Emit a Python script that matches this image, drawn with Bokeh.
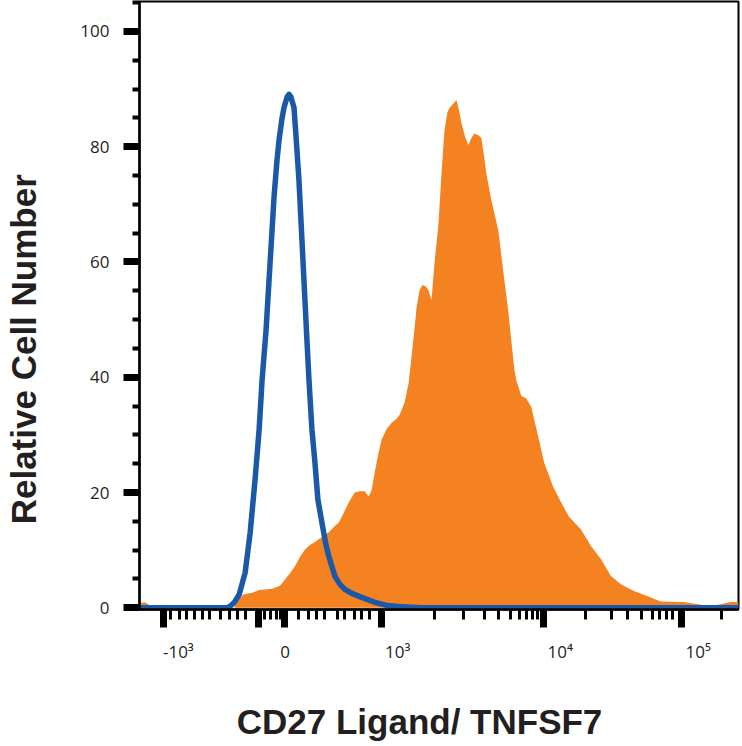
from bokeh.plotting import figure
from bokeh.models import Range1d, FixedTicker, LinearAxis
from bokeh.embed import file_html
from bokeh.resources import INLINE

# ---- data (x in biexponential display units 0..1000, y = relative cell number) ----
orange_x = [0, 10.0, 18.3, 25.0, 158.1, 166.4, 173.1, 188.0, 199.7, 221.3, 234.6, 242.9,
            251.2, 259.6, 267.9, 276.3, 284.6, 292.9, 304.5, 316.1, 326.1, 332.8, 341.1,
            349.4, 359.4, 367.7, 376.0, 382.7, 387.7, 392.7, 399.3, 404.3, 412.6, 421.0,
            429.3, 434.3, 442.6, 449.3, 454.2, 459.2, 462.6, 467.6, 472.5, 477.5, 482.5,
            487.5, 492.5, 499.2, 504.2, 509.2, 514.1, 517.5, 524.1, 529.1, 534.1, 537.4,
            544.1, 549.1, 554.1, 559.1, 565.7, 570.7, 575.7, 579.0, 587.4, 599.0, 609.0,
            615.6, 620.6, 625.6, 629.0, 637.3, 645.6, 653.9, 665.6, 675.5, 690.5, 703.8,
            717.1, 737.1, 753.7, 770.4, 787.0, 803.7, 825.3, 848.6, 870.2, 908.5, 931.8,
            953.4, 970.0, 986.7, 1000]
orange_y = [0.9, 0.9, 0.3, 0, 0, 1.5, 2.3, 2.6, 3.1, 3.3, 3.8, 4.9,
            6.0, 7.2, 8.8, 10.1, 10.9, 11.4, 12.3, 13.1, 14.2, 14.8, 16.5,
            18.3, 20.0, 20.2, 20.2, 19.3, 20.5, 23.5, 27.0, 29.2, 31.0, 32.1,
            32.8, 33.5, 35.6, 39.0, 43.6, 48.5, 52.2, 55.1, 56.0, 55.8, 55.1,
            53.4, 59.8, 66.7, 75.4, 82.9, 86.0, 86.7, 87.5, 88.1, 86.0, 84.1,
            81.5, 80.3, 81.5, 82.3, 82.0, 81.5, 78.0, 75.4, 70.7, 65.5, 56.9,
            51.5, 46.5, 41.5, 39.5, 36.8, 36.3, 34.9, 29.7, 25.2, 21.0, 18.3,
            15.8, 13.6, 10.7, 8.4, 5.5, 4.1, 2.9, 2.0, 1.1, 1.0, 0.6,
            0.3, 0.6, 1.0, 1.0]

blue_x = [0, 146.4, 151.4, 158.1, 166.4, 176.4, 184.7, 193.0, 199.7, 204.7, 211.3, 216.3,
          221.3, 224.6, 229.6, 232.9, 237.9, 241.3, 246.3, 249.6, 252.9, 257.9, 261.2,
          266.2, 271.2, 274.5, 279.5, 282.9, 287.9, 292.9, 297.8, 304.5, 311.1, 316.1,
          326.1, 334.4, 342.8, 354.4, 371.0, 392.7, 412.6, 437.6, 470.9, 1000]
blue_y = [0, 0, 0.3, 0.9, 2.3, 6.1, 13.0, 22.3, 30.9, 39.6, 48.2, 56.9,
          65.5, 71.3, 77.7, 81.1, 84.9, 86.8, 88.6, 89.1, 88.6, 86.8, 82.0,
          74.2, 63.8, 56.9, 46.5, 39.6, 30.9, 25.2, 18.8, 14.8, 11.0, 8.9,
          5.5, 4.1, 3.2, 2.5, 1.8, 0.95, 0.4, 0.2, 0, 0]

y_major_ticks = [0, 20, 40, 60, 80, 100]
y_minor_ticks = [5, 10, 15, 25, 30, 35, 45, 50, 55, 65, 70, 75, 85, 90, 95, 105]

x_major_ticks = [39.9, 198.0, 242.9, 404.3, 673.9, 905.2]
x_minor_ticks = [51.6, 66.6, 78.2, 91.5, 104.8, 116.5, 134.8, 149.8, 163.1, 176.4,
                 208.0, 218.0, 228.0, 234.6, 266.2, 282.9, 296.2, 309.5, 331.1, 342.8,
                 359.4, 371.0, 384.4, 492.5, 540.8, 575.7, 599.0, 619.0, 634.0, 645.6,
                 655.6, 663.9, 743.8, 788.7, 815.3, 838.6, 856.9, 868.6, 880.2, 890.2,
                 971.7]

x_label_pos = [64.9, 242.9, 431.0, 702.2, 932.6]
x_label_text = ["-10\u00b3", "0", "10\u00b3", "10\u2074", "10\u2075"]

x_title = "CD27 Ligand/ TNFSF7"
y_title = "Relative Cell Number"

# ---- layout ----
X0, X1 = 0, 1000
Y0, Y1 = -0.3, 105.2
W, H = 741, 745
ML, MR, MT, MB = 137, 3, 1, 136
INK = "#231f20"
ORANGE = "#f58220"
BLUE = "#1b58a8"
NBSP = "\u00a0"
X_TITLE_PAD = 4   # trailing non-breaking spaces: shift the centred title off-centre
Y_TITLE_PAD = 9

p = figure(width=W, height=H, x_range=Range1d(X0, X1), y_range=Range1d(Y0, Y1),
           output_backend="svg", toolbar_location=None,
           min_border_left=ML, min_border_right=MR, min_border_top=MT, min_border_bottom=MB)
p.grid.visible = False
p.background_fill_color = "white"
p.border_fill_color = "white"
p.outline_line_color = "black"
p.outline_line_width = 2

p.varea(x=orange_x, y1=0, y2=orange_y, fill_color=ORANGE, fill_alpha=1.0)
p.line(x=blue_x, y=blue_y, line_color=BLUE, line_width=5.5, line_join="round")

# y axis
ya = p.yaxis[0]
ya.ticker = FixedTicker(ticks=y_major_ticks, minor_ticks=y_minor_ticks)
ya.axis_line_color = "black"
ya.axis_line_width = 2.5
ya.major_tick_out = 16
ya.major_tick_in = 0
ya.major_tick_line_width = 7
ya.major_tick_line_color = "black"
ya.minor_tick_out = 7
ya.minor_tick_in = 0
ya.minor_tick_line_width = 4
ya.minor_tick_line_color = "black"
ya.major_label_standoff = 14
ya.major_label_text_font = "Open Sans"
ya.major_label_text_font_size = "17px"
ya.major_label_text_color = INK

# y axis title (separate axis carrying only the title)
yt = LinearAxis(ticker=FixedTicker(ticks=[50], minor_ticks=[]))
yt.major_label_overrides = {50: ""}
yt.axis_line_alpha = 0
yt.major_tick_out = 0
yt.major_tick_in = 0
yt.major_tick_line_alpha = 0
yt.minor_tick_out = 0
yt.minor_tick_in = 0
yt.major_label_standoff = 0
yt.axis_label = y_title + NBSP * Y_TITLE_PAD
yt.axis_label_standoff = 35
yt.axis_label_text_font = "Liberation Sans"
yt.axis_label_text_font_style = "bold"
yt.axis_label_text_font_size = "35px"
yt.axis_label_text_color = INK
p.add_layout(yt, "left")

# x axis: tick marks only
xa = p.xaxis[0]
xa.ticker = FixedTicker(ticks=x_major_ticks, minor_ticks=x_minor_ticks)
xa.axis_line_color = "black"
xa.axis_line_width = 2.5
xa.major_tick_out = 18
xa.major_tick_in = 0
xa.major_tick_line_width = 7
xa.major_tick_line_color = "black"
xa.minor_tick_out = 10
xa.minor_tick_in = 0
xa.minor_tick_line_width = 3
xa.minor_tick_line_color = "black"
xa.major_label_standoff = 0
xa.major_label_overrides = {t: "" for t in x_major_ticks}

# x axis: tick labels and title
xl = LinearAxis(ticker=FixedTicker(ticks=x_label_pos, minor_ticks=[]))
xl.axis_line_alpha = 0
xl.major_tick_out = 0
xl.major_tick_in = 0
xl.major_tick_line_alpha = 0
xl.minor_tick_out = 0
xl.minor_tick_in = 0
xl.minor_tick_line_alpha = 0
xl.major_label_standoff = 12
xl.major_label_overrides = dict(zip(x_label_pos, x_label_text))
xl.major_label_text_font = "Open Sans"
xl.major_label_text_font_size = "17px"
xl.major_label_text_color = INK
xl.axis_label = x_title + NBSP * X_TITLE_PAD
xl.axis_label_standoff = 36
xl.axis_label_text_font = "Liberation Sans"
xl.axis_label_text_font_style = "bold"
xl.axis_label_text_font_size = "35px"
xl.axis_label_text_color = INK
p.add_layout(xl, "below")

open("out.html", "w").write(file_html(p, INLINE))
